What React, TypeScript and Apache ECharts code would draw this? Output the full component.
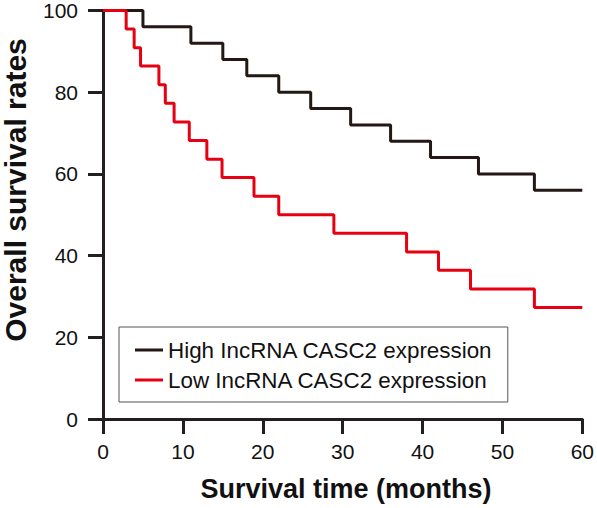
import React, { useEffect, useRef } from "react";
import * as echarts from "echarts";

const xTicks = [0, 10, 20, 30, 40, 50, 60];
const yTicks = [0, 20, 40, 60, 80, 100];

const highName = "High IncRNA CASC2 expression";
const lowName = "Low IncRNA CASC2 expression";

const highTimes = [0, 5, 11, 15, 18, 22, 26, 31, 36, 41, 47, 54, 60];
const highRates = [100, 96, 92, 88, 84, 80, 76, 72, 68, 64, 60, 56, 56];

const lowTimes = [0, 2.9, 3.9, 4.7, 7, 7.8, 8.9, 10.8, 13, 14.9, 18.9, 22, 28.9, 38, 42, 46, 54, 60];
const lowRates = [100, 95.5, 90.9, 86.4, 81.8, 77.3, 72.7, 68.2, 63.6, 59.1, 54.5, 50, 45.5, 40.9, 36.4, 31.8, 27.3, 27.3];

const xTitle = "Survival time (months)";
const yTitle = "Overall survival rates";

const AXIS = "#231f20";
const BLACK = "#231815";
const RED = "#e60012";
const FONT = "Arial, 'Liberation Sans', Helvetica, sans-serif";

export default function App() {
  const ref = useRef<HTMLDivElement>(null);
  useEffect(() => {
    if (!ref.current) return;
    const chart = echarts.init(ref.current, undefined, { renderer: "svg" });
    const axisCommon = {
      axisLine: { show: true, lineStyle: { color: AXIS, width: 3 } },
      axisTick: { show: true, length: 15, lineStyle: { color: AXIS, width: 3 } },
      splitLine: { show: false },
      axisLabel: { fontSize: 21, color: "#111", fontFamily: FONT },
    };
    chart.setOption({
      animation: false,
      grid: { left: 103, right: 12, top: 10, bottom: 89, containLabel: false },
      xAxis: {
        type: "value",
        min: xTicks[0],
        max: xTicks[xTicks.length - 1],
        interval: xTicks[1] - xTicks[0],
        ...axisCommon,
        axisLabel: { ...axisCommon.axisLabel, margin: 22 },
      },
      yAxis: {
        type: "value",
        min: yTicks[0],
        max: yTicks[yTicks.length - 1],
        interval: yTicks[1] - yTicks[0],
        ...axisCommon,
        axisLabel: { ...axisCommon.axisLabel, margin: 25 },
      },
      legend: {
        orient: "vertical",
        left: 119,
        top: 327,
        data: [highName, lowName],
        icon: "rect",
        borderColor: "#555",
        borderWidth: 1,
        padding: [11, 15, 10, 16],
        itemGap: 6,
        itemWidth: 28,
        itemHeight: 3,
        itemTextGap: 17,
        textStyle: { fontSize: 22.4, color: "#111", fontFamily: FONT, lineHeight: 24 },
      },
      graphic: [
        {
          type: "text",
          x: 346,
          y: 489,
          style: {
            text: xTitle,
            fontSize: 27,
            fontWeight: "bold",
            fontFamily: FONT,
            fill: "#111",
            textAlign: "center",
            textVerticalAlign: "middle",
          },
        },
        {
          type: "text",
          x: 15.5,
          y: 190,
          rotation: Math.PI / 2,
          style: {
            text: yTitle,
            fontSize: 30,
            fontWeight: "bold",
            fontFamily: FONT,
            fill: "#111",
            textAlign: "center",
            textVerticalAlign: "middle",
          },
        },
      ],
      series: [
        {
          name: highName,
          type: "line",
          step: "end",
          symbol: "none",
          color: BLACK,
          lineStyle: { color: BLACK, width: 3 },
          data: highTimes.map((t, i) => [t, highRates[i]]),
        },
        {
          name: lowName,
          type: "line",
          step: "end",
          symbol: "none",
          color: RED,
          lineStyle: { color: RED, width: 3 },
          data: lowTimes.map((t, i) => [t, lowRates[i]]),
        },
      ],
    });
    return () => chart.dispose();
  }, []);
  return (
    <div
      ref={ref}
      style={{ position: "absolute", left: 0, top: 0, width: 597, height: 508, background: "#fff" }}
    />
  );
}
